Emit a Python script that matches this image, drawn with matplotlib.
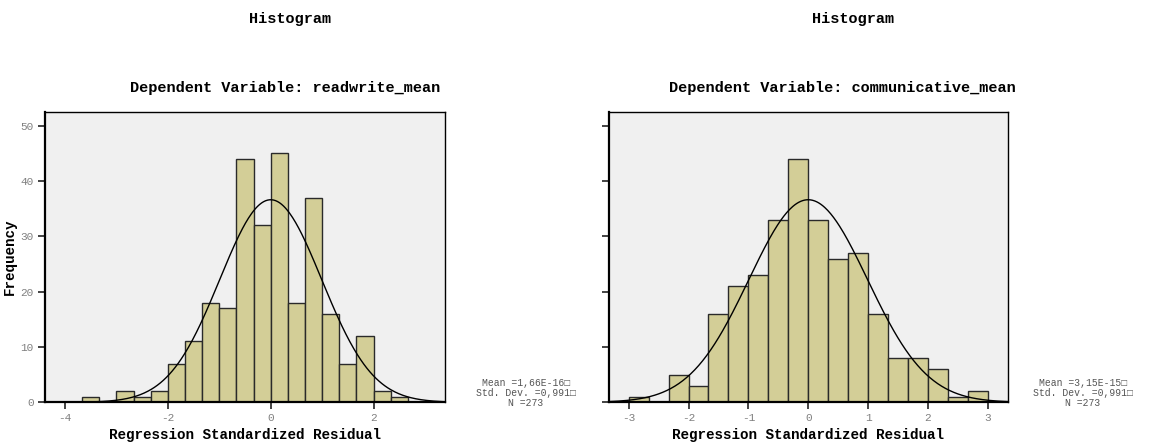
import numpy as np
import matplotlib
matplotlib.use("Agg")
import matplotlib.pyplot as plt

# residual histograms, bin width 1/3, counts per bin
binw = 1.0 / 3
rw_start = -11.0 / 3
rw_counts = [1, 0, 2, 1, 2, 7, 11, 18, 17, 44, 32, 45, 18, 37, 16, 7, 12, 2, 1]
cm_start = -3.0
cm_counts = [1, 0, 5, 3, 16, 21, 23, 33, 44, 33, 26, 27, 16, 8, 8, 6, 1, 2]

rw_stats = dict(mean=1.66e-16, sd=0.991, n=273, label="Mean =1,66E-16\u25a1\nStd. Dev. =0,991\u25a1\nN =273")
cm_stats = dict(mean=3.15e-15, sd=0.991, n=273, label="Mean =3,15E-15\u25a1\nStd. Dev. =0,991\u25a1\nN =273")

rw_xticks = [-4, -2, 0, 2]
cm_xticks = [-3, -2, -1, 0, 1, 2, 3]
yticks = [0, 10, 20, 30, 40, 50]

mono = ["Liberation Mono", "DejaVu Sans Mono"]
plt.rcParams['font.family'] = mono
plt.rcParams['axes.unicode_minus'] = False

W, H = 1149, 446
fig = plt.figure(figsize=(W / 100, H / 100), dpi=100)

def panel(rect, start, counts, stats, xticks, xlim, show_ylabels):
    ax = fig.add_axes(rect)
    ax.set_facecolor("#f0f0f0")
    counts = np.array(counts)
    edges = start + np.arange(len(counts)) * binw
    ax.bar(edges, counts, width=binw, align="edge", color="#d3ce97",
           edgecolor="#2a2a2a", linewidth=1.0, zorder=2)
    xs = np.linspace(xlim[0], xlim[1], 400)
    pdf = np.exp(-0.5 * ((xs - stats["mean"]) / stats["sd"]) ** 2) / (stats["sd"] * np.sqrt(2 * np.pi))
    ax.plot(xs, stats["n"] * binw * pdf, color="black", lw=1.0, zorder=3)
    ax.set_xlim(*xlim)
    ax.set_ylim(0, 52.5)
    ax.set_xticks(xticks)
    ax.set_yticks(yticks)
    if not show_ylabels:
        ax.set_yticklabels([])
    ax.tick_params(axis="both", direction="out", length=5, width=1.2, color="#222222",
                   labelcolor="#808080", labelsize=8, pad=3)
    ax.tick_params(axis="x", pad=3)
    for s in ax.spines.values():
        s.set_color("black")
        s.set_linewidth(1.0)
    ax.spines["left"].set_linewidth(1.6)
    ax.spines["bottom"].set_linewidth(1.6)
    ax.set_xlabel("Regression Standardized Residual", fontsize=10.3,
                  fontweight="bold", labelpad=3)
    return ax

axL = panel([45 / W, 1 - 402.3 / H, 400 / W, 290.3 / H], rw_start, rw_counts,
            rw_stats, rw_xticks, (-4.39, 3.39), True)
axL.set_ylabel("Frequency", fontsize=10.3, fontweight="bold", labelpad=3)
axR = panel([608.7 / W, 1 - 402.3 / H, 399 / W, 290.3 / H], cm_start, cm_counts,
            cm_stats, cm_xticks, (-3.334, 3.334), False)

# titles
fig.text(290 / W, 1 - 19 / H, "Histogram", ha="center", va="center",
         fontsize=11, fontweight="bold")
fig.text(853 / W, 1 - 19 / H, "Histogram", ha="center", va="center",
         fontsize=11, fontweight="bold")
fig.text(285 / W, 1 - 88 / H, "Dependent Variable: readwrite_mean", ha="center",
         va="center", fontsize=11, fontweight="bold")
fig.text(842 / W, 1 - 88 / H, "Dependent Variable: communicative_mean", ha="center",
         va="center", fontsize=11, fontweight="bold")

# summary statistics
fig.text(526 / W, 1 - 393 / H, rw_stats["label"], ha="center", va="center",
         fontsize=7, color="#555555", linespacing=1.0)
fig.text(1083 / W, 1 - 393 / H, cm_stats["label"], ha="center", va="center",
         fontsize=7, color="#555555", linespacing=1.0)

fig.savefig("out.png", dpi=100)
